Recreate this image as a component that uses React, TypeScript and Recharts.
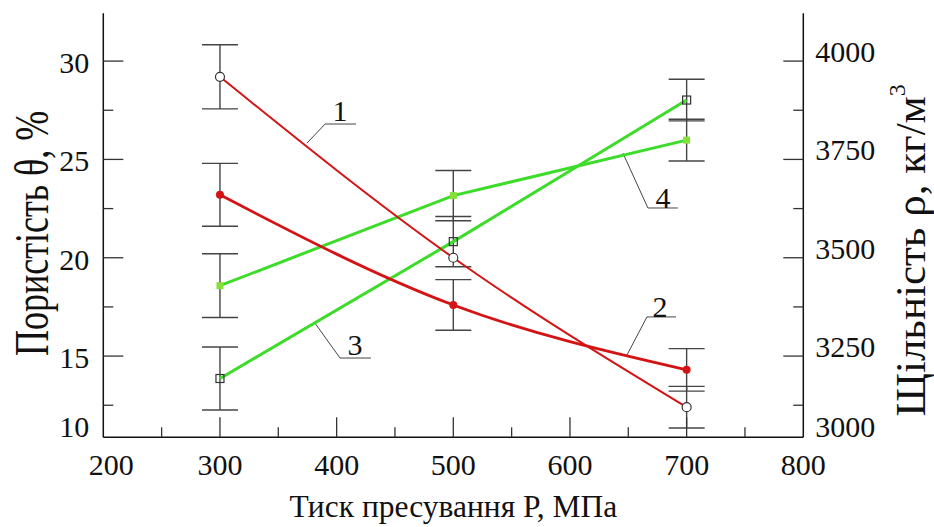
import React from 'react';
import { ComposedChart, Line, XAxis, YAxis, ErrorBar, ReferenceLine, ReferenceDot, Label } from 'recharts';

// pressing pressure, MPa
const pressure = [300, 500, 700];

// porosity, % (left axis)
const porosity1 = [29.2, 20.0, 12.4];
const porosity1Err = [1.63, null, 1.06];
const porosity2 = [23.2, 17.6, 14.3];
const porosity2Err = [1.6, 1.29, 1.08];

// density, kg/m3 (right axis)
const density3 = [3193, 3541, 3901];
const density3Err = [80, 64, 53];
const density4 = [3429, 3658, 3799];
const density4Err = [81, 64, 53];

const xTicks = [200, 250, 300, 350, 400, 450, 500, 550, 600, 650, 700, 750, 800];
const xMajor = [200, 300, 400, 500, 600, 700, 800];
const leftTicks = [12.5, 15, 17.5, 20, 22.5, 25, 27.5, 30];
const leftMajor = [15, 20, 25, 30];
const rightTicks = [3125, 3250, 3375, 3500, 3625, 3750, 3875, 4000];
const rightMajor = [3250, 3500, 3750, 4000];
const leftBottomLabel = '10';
const rightBottomLabel = '3000';

const xTitle = 'Тиск пресування Р, МПа';
const leftTitle = 'Пористість θ, %';
const rightTitle = 'Щільність ρ, кг/м';

// callout leaders (in left-axis units): point on curve, knee, end of underline, number position
const callouts = [
  { label: '1', anchor: [374.6, 25.83], knee: [390.1, 26.8], end: [416.6, 26.8], text: [402.9, 27.51] },
  { label: '2', anchor: [648.8, 15.05], knee: [666.0, 16.99], end: [690.9, 16.99], text: [677.1, 17.54] },
  { label: '3', anchor: [381.4, 16.68], knee: [402.9, 14.9], end: [429.4, 14.9], text: [415.7, 15.61] },
  { label: '4', anchor: [645.4, 25.32], knee: [666.8, 22.53], end: [692.5, 22.53], text: [679.7, 23.09] },
];

const data = pressure.map((p, i) => ({
  p,
  s1: porosity1[i],
  e1: porosity1Err[i],
  s2: porosity2[i],
  e2: porosity2Err[i],
  s3: density3[i],
  e3: density3Err[i],
  s4: density4[i],
  e4: density4Err[i],
}));

const FONT = '"Liberation Serif", "DejaVu Serif", serif';
const RED = '#d41414';
const GREEN = '#3ddc2a';
const TICK = '#333';

function BottomTick(props: any) {
  const { x, y, payload } = props;
  const v = payload.value;
  const major = xMajor.includes(v);
  return (
    <g>
      {v !== 200 && v !== 800 && (
        <line x1={x} x2={x} y1={y} y2={y - (major ? 20 : 10)} stroke={TICK} strokeWidth={1.3} />
      )}
      {major && (
        <text x={x + (v === 200 ? 8 : 0)} y={y + 38} textAnchor="middle" fontSize={30} fontFamily={FONT} fill="#111">
          {v}
        </text>
      )}
    </g>
  );
}

function LeftTick(props: any) {
  const { x, y, payload } = props;
  const v = payload.value;
  const major = leftMajor.includes(v);
  return (
    <g>
      <line x1={x} x2={x + (major ? 20 : 10)} y1={y} y2={y} stroke={TICK} strokeWidth={1.3} />
      {major && (
        <text x={x - 14} y={y + 12} textAnchor="end" fontSize={30} fontFamily={FONT} fill="#111">
          {v}
        </text>
      )}
      {v === leftTicks[0] && (
        <text x={x - 14} y={y + 32} textAnchor="end" fontSize={30} fontFamily={FONT} fill="#111">
          {leftBottomLabel}
        </text>
      )}
    </g>
  );
}

function RightTick(props: any) {
  const { x, y, payload } = props;
  const v = payload.value;
  const major = rightMajor.includes(v);
  return (
    <g>
      <line x1={x} x2={x - (major ? 20 : 10)} y1={y} y2={y} stroke={TICK} strokeWidth={1.3} />
      {major && (
        <text x={x + 12} y={y + 1} textAnchor="start" fontSize={30} fontFamily={FONT} fill="#111">
          {v}
        </text>
      )}
      {v === rightTicks[0] && (
        <text x={x + 12} y={y + 32} textAnchor="start" fontSize={30} fontFamily={FONT} fill="#111">
          {rightBottomLabel}
        </text>
      )}
    </g>
  );
}

const LeftTitle = (props: any) => {
  const vb = props.viewBox;
  const bx = vb.x + 4.7;
  const cy = vb.y + vb.height / 2 + 8;
  return (
    <text
      transform={`translate(${bx},${cy}) rotate(-90) scale(1,1.35)`}
      textAnchor="middle"
      fontSize={36}
      fontFamily={FONT}
      fill="#111"
    >
      {leftTitle}
    </text>
  );
};

const RightTitle = (props: any) => {
  const vb = props.viewBox;
  const bx = vb.x + 122;
  const cy = vb.y + vb.height / 2 + 25;
  return (
    <text
      transform={`translate(${bx},${cy}) rotate(-90)`}
      textAnchor="middle"
      fontSize={43}
      fontFamily={FONT}
      fill="#111"
    >
      {rightTitle}
      <tspan fontSize={24} dy={-20}>3</tspan>
    </text>
  );
};

const OpenCircle = (props: any) => {
  const { cx, cy, index } = props;
  if (cx == null || cy == null) return <g key={index} />;
  return <circle key={index} cx={cx} cy={cy} r={4.5} fill="#fff" stroke="#333" strokeWidth={1.2} />;
};

const RedDot = (props: any) => {
  const { cx, cy, index } = props;
  if (cx == null || cy == null) return <g key={index} />;
  return <circle key={index} cx={cx} cy={cy} r={4} fill={RED} stroke="none" />;
};

const OpenSquare = (props: any) => {
  const { cx, cy, index } = props;
  if (cx == null || cy == null) return <g key={index} />;
  return <rect key={index} x={cx - 4} y={cy - 4} width={8} height={8} fill="none" stroke="#333" strokeWidth={1.2} />;
};

const GreenSquare = (props: any) => {
  const { cx, cy, index } = props;
  if (cx == null || cy == null) return <g key={index} />;
  return <rect key={index} x={cx - 3.5} y={cy - 3.5} width={7} height={7} fill="#86e03a" stroke="none" />;
};

export default function App() {
  return (
    <div style={{ position: 'absolute', left: 0, top: 0, width: 934, height: 527, background: '#fff' }}>
      <ComposedChart
        width={934}
        height={527}
        data={data}
        margin={{ top: 13.3, right: 70.7, bottom: 49.7, left: 43.3 }}
        style={{ fontFamily: FONT }}
      >
        <XAxis
          xAxisId="bottom"
          dataKey="p"
          type="number"
          domain={[200, 800]}
          ticks={xTicks}
          interval={0}
          tickSize={0}
          tickMargin={0}
          tickLine={false}
          height={40}
          axisLine={{ stroke: '#111', strokeWidth: 1.5 }}
          tick={(p: any) => <BottomTick {...p} />}
        >
          <Label value={xTitle} position="bottom" offset={17} fontSize={31.5} fontFamily={FONT} fill="#111" />
        </XAxis>
        <XAxis
          xAxisId="top"
          orientation="top"
          type="number"
          domain={[200, 800]}
          height={0}
          tick={false}
          tickLine={false}
          axisLine={{ stroke: '#111', strokeWidth: 1.5 }}
        />
        <YAxis
          yAxisId="left"
          type="number"
          domain={[10.87, 32.43]}
          ticks={leftTicks}
          interval={0}
          width={60}
          tickSize={0}
          tickMargin={0}
          tickLine={false}
          axisLine={{ stroke: '#111', strokeWidth: 1.5 }}
          tick={(p: any) => <LeftTick {...p} />}
        >
          <Label content={LeftTitle} />
        </YAxis>
        <YAxis
          yAxisId="right"
          orientation="right"
          type="number"
          domain={[3043.5, 4121.5]}
          ticks={rightTicks}
          interval={0}
          width={60}
          tickSize={0}
          tickMargin={0}
          tickLine={false}
          axisLine={{ stroke: '#111', strokeWidth: 1.5 }}
          tick={(p: any) => <RightTick {...p} />}
        >
          <Label content={RightTitle} />
        </YAxis>

        {callouts.map((c) => (
          <ReferenceLine
            key={`a${c.label}`}
            xAxisId="bottom"
            yAxisId="left"
            segment={[
              { x: c.anchor[0], y: c.anchor[1] },
              { x: c.knee[0], y: c.knee[1] },
            ]}
            stroke="#444"
            strokeWidth={1}
          />
        ))}
        {callouts.map((c) => (
          <ReferenceLine
            key={`b${c.label}`}
            xAxisId="bottom"
            yAxisId="left"
            segment={[
              { x: c.knee[0], y: c.knee[1] },
              { x: c.end[0], y: c.end[1] },
            ]}
            stroke="#444"
            strokeWidth={1}
          />
        ))}
        {callouts.map((c) => (
          <ReferenceDot
            key={`t${c.label}`}
            xAxisId="bottom"
            yAxisId="left"
            x={c.text[0]}
            y={c.text[1]}
            r={0}
            fill="none"
            stroke="none"
            label={{ value: c.label, position: 'center', fontSize: 30, fontFamily: FONT, fill: '#111' }}
          />
        ))}

        <Line
          xAxisId="bottom"
          yAxisId="right"
          type="linear"
          dataKey="s3"
          stroke={GREEN}
          strokeWidth={3}
          dot={OpenSquare}
          activeDot={false}
          isAnimationActive={false}
        >
          <ErrorBar dataKey="e3" direction="y" width={18} stroke="#444" strokeWidth={1.4} />
        </Line>
        <Line
          xAxisId="bottom"
          yAxisId="right"
          type="linear"
          dataKey="s4"
          stroke={GREEN}
          strokeWidth={3}
          dot={GreenSquare}
          activeDot={false}
          isAnimationActive={false}
        >
          <ErrorBar dataKey="e4" direction="y" width={18} stroke="#444" strokeWidth={1.4} />
        </Line>
        <Line
          xAxisId="bottom"
          yAxisId="left"
          type="natural"
          dataKey="s1"
          stroke={RED}
          strokeWidth={2}
          dot={OpenCircle}
          activeDot={false}
          isAnimationActive={false}
        >
          <ErrorBar dataKey="e1" direction="y" width={18} stroke="#444" strokeWidth={1.4} />
        </Line>
        <Line
          xAxisId="bottom"
          yAxisId="left"
          type="natural"
          dataKey="s2"
          stroke={RED}
          strokeWidth={2.8}
          dot={RedDot}
          activeDot={false}
          isAnimationActive={false}
        >
          <ErrorBar dataKey="e2" direction="y" width={18} stroke="#444" strokeWidth={1.4} />
        </Line>
      </ComposedChart>
    </div>
  );
}
